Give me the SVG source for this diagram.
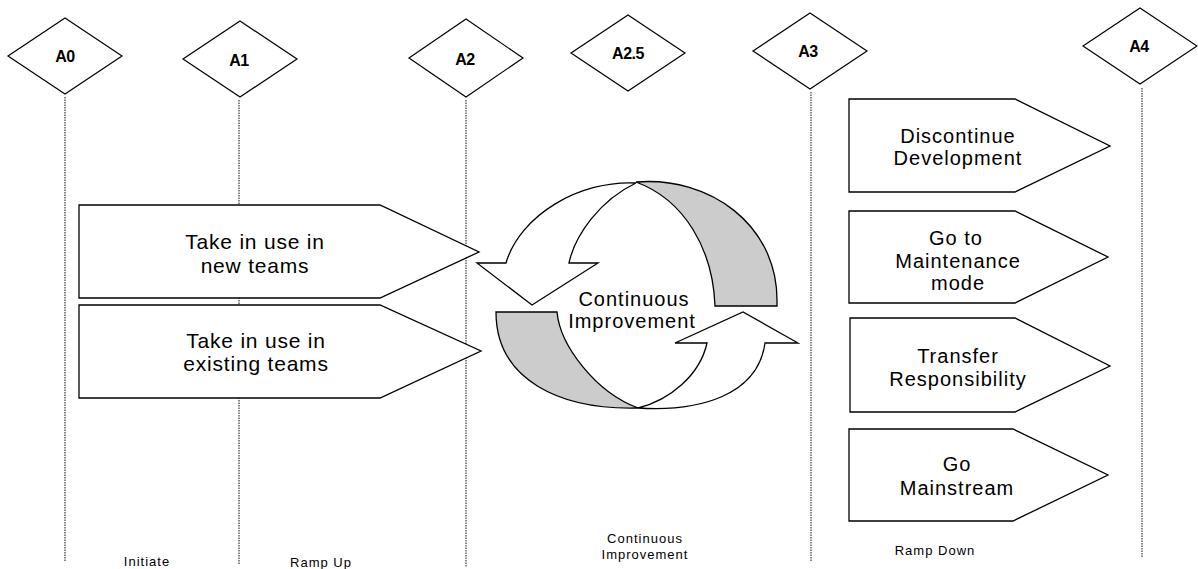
<svg xmlns="http://www.w3.org/2000/svg" width="1198" height="569" viewBox="0 0 1198 569">
  <style>
    .guide { stroke: #111; stroke-width: 1; stroke-dasharray: 1.5 1; fill: none; }
    .milestone { fill: #fff; stroke: #000; stroke-width: 1.2; }
    .mlabel { font-family: "Liberation Sans", Arial, sans-serif; font-size: 16px; font-weight: bold; text-anchor: middle; letter-spacing: -0.5px; fill: #000; }
    .step { fill: #fff; stroke: #000; stroke-width: 1.3; }
    .stext { font-family: "Liberation Sans", Arial, sans-serif; font-size: 21px; text-anchor: middle; letter-spacing: 0.8px; fill: #000; }
    .rtext { font-family: "Liberation Sans", Arial, sans-serif; font-size: 20px; text-anchor: middle; letter-spacing: 1px; fill: #000; }
    .phase { font-family: "Liberation Sans", Arial, sans-serif; font-size: 13px; text-anchor: middle; letter-spacing: 1px; fill: #000; }
    .front { fill: #fff; stroke: #000; stroke-width: 1.3; stroke-linejoin: miter; }
    .back { fill: #cccccc; stroke: #000; stroke-width: 1.3; }
  </style>

  <!-- dotted milestone guide lines -->
  <g id="connectors">
    <line class="guide" x1="65" y1="97" x2="65" y2="561"/>
    <line class="guide" x1="239" y1="100" x2="239" y2="565"/>
    <line class="guide" x1="466" y1="100" x2="466" y2="567"/>
    <line class="guide" x1="811" y1="92" x2="811" y2="562"/>
    <line class="guide" x1="1142" y1="88" x2="1142" y2="557"/>
  </g>

  <!-- milestones -->
  <g id="A0">
    <polygon class="milestone" points="65,18 122,56 65,94 8,56"/>
    <text class="mlabel" x="65" y="62">A0</text>
  </g>
  <g id="A1">
    <polygon class="milestone" points="240,21 297,59 240,97 183,59"/>
    <text class="mlabel" x="239" y="66">A1</text>
  </g>
  <g id="A2">
    <polygon class="milestone" points="466,19 523,58 466,97 409,58"/>
    <text class="mlabel" x="465" y="65">A2</text>
  </g>
  <g id="A2_5">
    <polygon class="milestone" points="628,15 685,53 628,91 571,53"/>
    <text class="mlabel" x="628" y="59">A2.5</text>
  </g>
  <g id="A3">
    <polygon class="milestone" points="810,13 867,51 810,89 753,51"/>
    <text class="mlabel" x="808" y="57">A3</text>
  </g>
  <g id="A4">
    <polygon class="milestone" points="1140,8 1197,46 1140,84 1083,46"/>
    <text class="mlabel" x="1139" y="52">A4</text>
  </g>

  <!-- ramp-up steps -->
  <g id="new-teams">
    <polygon class="step" points="79,205 380,205 479,252 380,298 79,298"/>
    <text class="stext" x="255" y="249">Take in use in</text>
    <text class="stext" x="255" y="273">new teams</text>
  </g>
  <g id="existing-teams">
    <polygon class="step" points="79,305 380,305 481,351 380,398 79,398"/>
    <text class="stext" x="256" y="348">Take in use in</text>
    <text class="stext" x="256" y="371">existing teams</text>
  </g>

  <!-- continuous improvement cycle -->
  <g id="cycle">
    <path class="back" d="M636,182 C710,176 777,225 777,300 L777,306 L715,306 C713,250 685,200 636,182 Z"/>
    <path class="front" d="M636,183 C580,180 520,215 506,263 L477,263 L532,305 L598,263 L569,263 C575,235 600,200 636,183 Z"/>
    <path class="back" d="M496,312 L557,312 C560,345 595,392 638,408 C560,410 496,380 496,312 Z"/>
    <path class="front" d="M638,408 C700,412 758,395 765,343 L798,343 L743,312 L675,343 L707,343 C700,375 670,400 638,408 Z"/>
    <text class="rtext" x="634" y="306">Continuous</text>
    <text class="rtext" x="632" y="328">Improvement</text>
  </g>

  <!-- ramp-down options -->
  <g id="discontinue">
    <polygon class="step" points="849,99 1015,99 1110,146 1015,192 849,192"/>
    <text class="rtext" x="958" y="143">Discontinue</text>
    <text class="rtext" x="958" y="165">Development</text>
  </g>
  <g id="maintenance">
    <polygon class="step" points="849,211 1015,211 1108,257 1015,303 849,303"/>
    <text class="rtext" x="956" y="245">Go to</text>
    <text class="rtext" x="958" y="268">Maintenance</text>
    <text class="rtext" x="958" y="290">mode</text>
  </g>
  <g id="transfer">
    <polygon class="step" points="850,318 1015,318 1110,366 1015,412 850,412"/>
    <text class="rtext" x="958" y="363">Transfer</text>
    <text class="rtext" x="958" y="386">Responsibility</text>
  </g>
  <g id="mainstream">
    <polygon class="step" points="849,429 1013,429 1108,475 1013,521 849,521"/>
    <text class="rtext" x="957" y="471">Go</text>
    <text class="rtext" x="957" y="495">Mainstream</text>
  </g>

  <!-- phase names -->
  <g id="phases">
    <text class="phase" x="147" y="566">Initiate</text>
    <text class="phase" x="321" y="567">Ramp Up</text>
    <text class="phase" x="645" y="543">Continuous</text>
    <text class="phase" x="645" y="559">Improvement</text>
    <text class="phase" x="935" y="555">Ramp Down</text>
  </g>
</svg>
